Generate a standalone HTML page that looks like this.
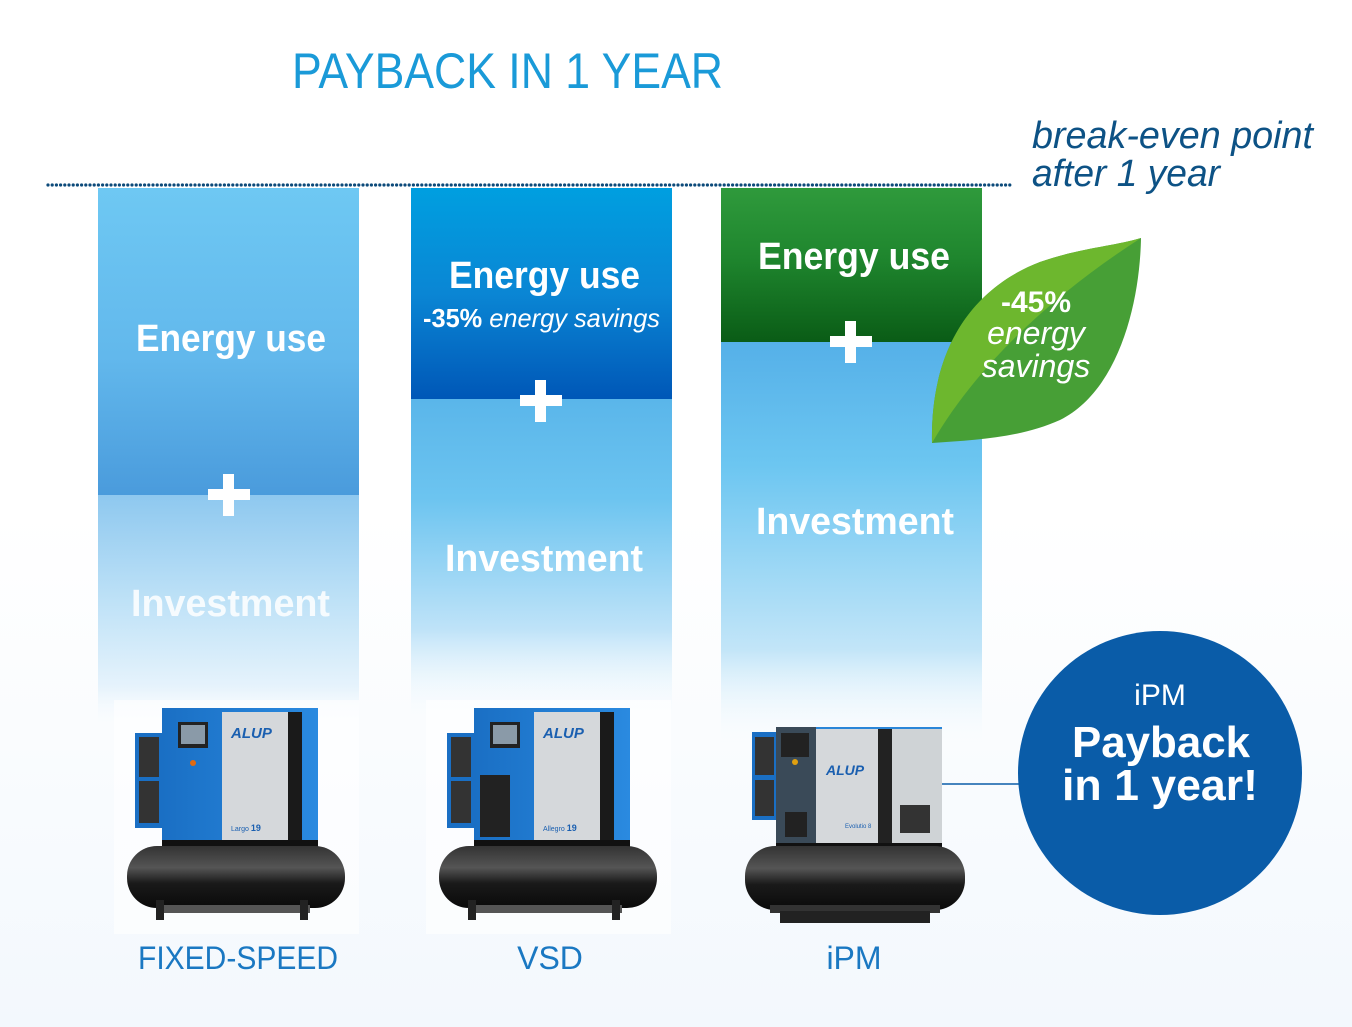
<!DOCTYPE html>
<html><head><meta charset="utf-8"><style>
html,body{margin:0;padding:0;background:#fff}
svg{display:block}
text{font-family:"Liberation Sans",sans-serif}
</style></head><body>
<svg width="1352" height="1027" viewBox="0 0 1352 1027" xmlns="http://www.w3.org/2000/svg">
<defs>
<linearGradient id="bg" x1="0" y1="0" x2="0" y2="1"><stop offset="0.5" stop-color="#ffffff"/><stop offset="1" stop-color="#f3f8fd"/></linearGradient>
<linearGradient id="e1" x1="0" y1="0" x2="0" y2="1"><stop offset="0" stop-color="#6ec8f3"/><stop offset="0.55" stop-color="#62b8ec"/><stop offset="1" stop-color="#4a9bdc"/></linearGradient>
<linearGradient id="i1" x1="0" y1="0" x2="0" y2="1"><stop offset="0" stop-color="#8ec8ef"/><stop offset="0.45" stop-color="#bfe2f7"/><stop offset="0.8" stop-color="#e6f3fc"/><stop offset="1" stop-color="#ffffff" stop-opacity="0"/></linearGradient>
<linearGradient id="e2" x1="0" y1="0" x2="0" y2="1"><stop offset="0" stop-color="#009fe0"/><stop offset="0.5" stop-color="#0a86d4"/><stop offset="1" stop-color="#0057b7"/></linearGradient>
<linearGradient id="i2" x1="0" y1="0" x2="0" y2="1"><stop offset="0" stop-color="#5ab6ea"/><stop offset="0.3" stop-color="#6cc4f0"/><stop offset="0.7" stop-color="#bfe3f8"/><stop offset="1" stop-color="#ffffff" stop-opacity="0"/></linearGradient>
<linearGradient id="e3" x1="0" y1="0" x2="0" y2="1"><stop offset="0" stop-color="#2f9a3c"/><stop offset="0.45" stop-color="#1f862e"/><stop offset="1" stop-color="#0a5c16"/></linearGradient>
<linearGradient id="i3" x1="0" y1="0" x2="0" y2="1"><stop offset="0" stop-color="#55b0e8"/><stop offset="0.3" stop-color="#6cc6f1"/><stop offset="0.75" stop-color="#c2e5f8"/><stop offset="1" stop-color="#ffffff" stop-opacity="0"/></linearGradient>
<linearGradient id="tank" x1="0" y1="0" x2="0" y2="1"><stop offset="0" stop-color="#333"/><stop offset="0.35" stop-color="#555"/><stop offset="0.6" stop-color="#1a1a1a"/><stop offset="1" stop-color="#0a0a0a"/></linearGradient>
<linearGradient id="cab" x1="0" y1="0" x2="1" y2="0"><stop offset="0" stop-color="#1a6fc4"/><stop offset="1" stop-color="#2a8ae0"/></linearGradient>
</defs>
<rect width="1352" height="1027" fill="url(#bg)"/>

<!-- columns -->
<rect x="98" y="188" width="261" height="307" fill="url(#e1)"/>
<rect x="98" y="495" width="261" height="240" fill="url(#i1)"/>
<rect x="411" y="188" width="261" height="211" fill="url(#e2)"/>
<rect x="411" y="399" width="261" height="330" fill="url(#i2)"/>
<rect x="721" y="188" width="261" height="154" fill="url(#e3)"/>
<rect x="721" y="342" width="261" height="410" fill="url(#i3)"/>

<!-- dotted line -->
<line x1="48" y1="185" x2="1013" y2="185" stroke="#0c4a7a" stroke-width="3.2" stroke-linecap="round" stroke-dasharray="0 4.2"/>

<!-- title -->
<text x="292" y="88" font-size="50" fill="#1a9ad8" textLength="431" lengthAdjust="spacingAndGlyphs">PAYBACK IN 1 YEAR</text>
<text x="1032" y="148" font-size="38" font-style="italic" fill="#0d5285" textLength="281" lengthAdjust="spacingAndGlyphs">break-even point</text>
<text x="1032" y="186" font-size="38" font-style="italic" fill="#0d5285" textLength="188" lengthAdjust="spacingAndGlyphs">after 1 year</text>

<g fill="#fff" font-weight="bold">
<text x="136" y="351" font-size="38" textLength="190" lengthAdjust="spacingAndGlyphs">Energy use</text>
<text x="131" y="616" font-size="38" textLength="199" lengthAdjust="spacingAndGlyphs" fill-opacity="0.85">Investment</text>
<text x="449" y="288" font-size="38" textLength="191" lengthAdjust="spacingAndGlyphs">Energy use</text>
<text x="445" y="571" font-size="38" textLength="198" lengthAdjust="spacingAndGlyphs">Investment</text>
<text x="758" y="269" font-size="38" textLength="192" lengthAdjust="spacingAndGlyphs">Energy use</text>
<text x="756" y="534" font-size="38" textLength="198" lengthAdjust="spacingAndGlyphs">Investment</text>
</g>
<text x="423" y="327" font-size="26" fill="#fff" textLength="237" lengthAdjust="spacingAndGlyphs"><tspan font-weight="bold">-35%</tspan><tspan font-style="italic"> energy savings</tspan></text>

<g fill="#fff">
<rect x="208" y="489" width="42" height="11"/><rect x="223" y="474" width="11" height="42"/>
<rect x="520" y="395" width="42" height="11"/><rect x="535" y="380" width="11" height="42"/>
<rect x="830" y="336" width="42" height="11"/><rect x="845" y="321" width="11" height="42"/>
</g>

<!-- leaf -->
<path d="M932,443 C930,340 980,285 1040,262 C1080,248 1115,246 1141,238 C1140,300 1120,390 1060,420 C1020,438 975,440 932,443 Z" fill="#479f36"/>
<path d="M932,443 C930,340 980,285 1040,262 C1080,248 1115,246 1141,238 C1060,290 980,360 932,443 Z" fill="#6db72e"/>
<text x="1036" y="312" font-size="30" font-weight="bold" fill="#fff" text-anchor="middle">-45%</text>
<text x="1036" y="344" font-size="32" font-style="italic" fill="#fff" text-anchor="middle">energy</text>
<text x="1036" y="377" font-size="32" font-style="italic" fill="#fff" text-anchor="middle">savings</text>

<line x1="942" y1="784" x2="1022" y2="784" stroke="#0a5ca8" stroke-width="1.5"/>
<circle cx="1160" cy="773" r="142" fill="#0a5ca8"/>
<text x="1160" y="705" font-size="30" fill="#fff" text-anchor="middle">iPM</text>
<text x="1161" y="757" font-size="44" font-weight="bold" fill="#fff" text-anchor="middle" textLength="178" lengthAdjust="spacingAndGlyphs">Payback</text>
<text x="1160" y="800" font-size="44" font-weight="bold" fill="#fff" text-anchor="middle" textLength="196" lengthAdjust="spacingAndGlyphs">in 1 year!</text>

<g>
<rect x="114" y="700" width="245" height="234" fill="#fff" opacity="0.6"/>
<rect x="135" y="733" width="28" height="95" fill="#1a6fc4"/>
<rect x="139" y="737" width="20" height="40" fill="#333"/><rect x="139" y="781" width="20" height="42" fill="#333"/>
<rect x="162" y="708" width="156" height="136" fill="url(#cab)"/>
<rect x="222" y="712" width="66" height="130" fill="#d5d8db"/>
<rect x="288" y="712" width="14" height="130" fill="#1a1a1a"/>
<rect x="178" y="722" width="30" height="26" fill="#222"/><rect x="181" y="725" width="24" height="19" fill="#8a9aa8"/>
<circle cx="193" cy="763" r="3" fill="#e06a10"/>
<text x="231" y="738" font-size="15" font-weight="bold" font-style="italic" fill="#1a5fb0">ALUP</text>
<text x="231" y="831" font-size="7" fill="#1a5fb0">Largo <tspan font-size="9" font-weight="bold">19</tspan></text>
<rect x="162" y="840" width="156" height="12" fill="#111"/>
<rect x="127" y="846" width="218" height="62" rx="30" fill="url(#tank)"/>
<rect x="160" y="905" width="150" height="8" fill="#555"/>
<rect x="156" y="900" width="8" height="20" fill="#222"/><rect x="300" y="900" width="8" height="20" fill="#222"/>
</g>
<g transform="translate(312,0)">
<rect x="114" y="700" width="245" height="234" fill="#fff" opacity="0.6"/>
<rect x="135" y="733" width="28" height="95" fill="#1a6fc4"/>
<rect x="139" y="737" width="20" height="40" fill="#333"/><rect x="139" y="781" width="20" height="42" fill="#333"/>
<rect x="162" y="708" width="156" height="136" fill="url(#cab)"/>
<rect x="168" y="775" width="30" height="62" fill="#222"/>
<rect x="222" y="712" width="66" height="130" fill="#d5d8db"/>
<rect x="288" y="712" width="14" height="130" fill="#1a1a1a"/>
<rect x="178" y="722" width="30" height="26" fill="#222"/><rect x="181" y="725" width="24" height="19" fill="#8a9aa8"/>
<text x="231" y="738" font-size="15" font-weight="bold" font-style="italic" fill="#1a5fb0">ALUP</text>
<text x="231" y="831" font-size="7" fill="#1a5fb0">Allegro <tspan font-size="9" font-weight="bold">19</tspan></text>
<rect x="162" y="840" width="156" height="12" fill="#111"/>
<rect x="127" y="846" width="218" height="62" rx="30" fill="url(#tank)"/>
<rect x="160" y="905" width="150" height="8" fill="#555"/>
<rect x="156" y="900" width="8" height="20" fill="#222"/><rect x="300" y="900" width="8" height="20" fill="#222"/>
</g>
<g>
<rect x="752" y="732" width="25" height="88" fill="#1a6fc4"/>
<rect x="755" y="737" width="19" height="38" fill="#333"/><rect x="755" y="780" width="19" height="36" fill="#333"/>
<rect x="776" y="727" width="166" height="118" fill="#2a86d8"/>
<rect x="776" y="727" width="40" height="118" fill="#3a4a58"/>
<rect x="781" y="733" width="28" height="24" fill="#222"/>
<circle cx="795" cy="762" r="3" fill="#e0a010"/>
<rect x="785" y="812" width="22" height="25" fill="#222"/>
<rect x="816" y="729" width="62" height="114" fill="#d5d8db"/>
<rect x="878" y="729" width="14" height="114" fill="#222"/>
<rect x="892" y="729" width="50" height="114" fill="#cfd3d6"/>
<rect x="900" y="805" width="30" height="28" fill="#333"/>
<text x="826" y="775" font-size="14" font-weight="bold" font-style="italic" fill="#1a5fb0">ALUP</text>
<text x="845" y="828" font-size="6" fill="#1a5fb0">Evolutio 8</text>
<rect x="776" y="843" width="166" height="16" fill="#111"/>
<rect x="745" y="846" width="220" height="64" rx="30" fill="url(#tank)"/>
<rect x="770" y="905" width="170" height="8" fill="#333"/>
<rect x="780" y="911" width="150" height="12" fill="#222"/>
</g>

<g font-size="32" fill="#1a78c2">
<text x="138" y="969" textLength="200" lengthAdjust="spacingAndGlyphs">FIXED-SPEED</text>
<text x="550" y="969" text-anchor="middle">VSD</text>
<text x="854" y="969" text-anchor="middle">iPM</text>
</g>
</svg>
</body></html>
